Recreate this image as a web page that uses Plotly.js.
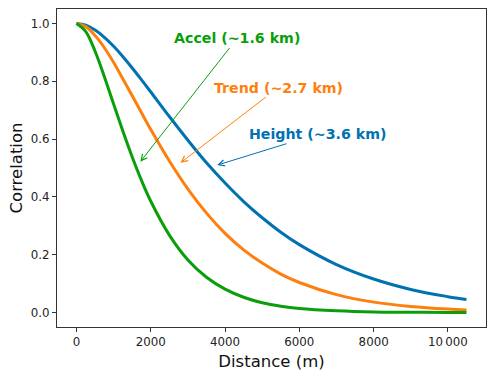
<!DOCTYPE html>
<html>
<head>
<meta charset="utf-8">
<script src="https://cdn.plot.ly/plotly-3.0.1.min.js"></script>
<style>
  html, body { margin: 0; padding: 0; background: #fff; }
  #plot { width: 496px; height: 378px; }
</style>
</head>
<body>
<div id="plot"></div>
<script>
// Distance (m) and correlation
const distance = [0, 250, 500, 750, 1000, 1250, 1500, 1750, 2000, 2500, 3000, 3500, 4000,
                  4500, 5000, 5500, 6000, 7000, 8000, 9000, 10000, 10500];
const heightCorr = [1.0, 0.994, 0.977, 0.952, 0.921, 0.885, 0.846, 0.805, 0.763, 0.678, 0.596, 0.518, 0.448,
                    0.384, 0.328, 0.278, 0.235, 0.166, 0.116, 0.080, 0.055, 0.045];
const trendCorr = [1.0, 0.989, 0.958, 0.916, 0.865, 0.808, 0.750, 0.691, 0.633, 0.524, 0.427, 0.344, 0.274,
                   0.217, 0.171, 0.133, 0.104, 0.062, 0.036, 0.021, 0.012, 0.009];
const accelCorr = [1.0, 0.972, 0.904, 0.816, 0.721, 0.627, 0.538, 0.457, 0.385, 0.268, 0.182, 0.122, 0.081,
                   0.053, 0.034, 0.022, 0.014, 0.006, 0.002, 0.001, 0.0, 0.0];

const seriesNames = ['Height', 'Trend', 'Accel'];
const seriesColors = ['#0072b2', '#ff7f0e', '#0a9f0a'];

// annotation labels, text centre and arrow tip
const labelText = ['Height (~3.6 km)', 'Trend (~2.7 km)', 'Accel (~1.6 km)'];
const labelX = [6481, 5428, 4321];
const labelY = [0.617, 0.778, 0.948];
const tipX = [3789, 2800, 1719];
const tipY = [0.510, 0.518, 0.522];

const xTickVals = [0, 2000, 4000, 6000, 8000, 10000];
const xTickText = ['0', '2000', '4000', '6000', '8000', '10\u2009000'];

function plotCorrelation() {
    const ys = [heightCorr, trendCorr, accelCorr];

    const traces = ys.map((y, i) => ({
        x: distance,
        y: y,
        name: seriesNames[i],
        type: 'scatter',
        mode: 'lines',
        line: { color: seriesColors[i], width: 3, shape: 'spline', smoothing: 1 },
        hoverinfo: 'skip'
    }));

    const annotations = labelText.map((t, i) => ({
        text: '<b>' + t + '</b>',
        x: tipX[i], y: tipY[i], xref: 'x', yref: 'y',
        ax: labelX[i], ay: labelY[i], axref: 'x', ayref: 'y',
        showarrow: true,
        arrowhead: 5,
        arrowsize: 1.2,
        arrowwidth: 1,
        arrowcolor: seriesColors[i],
        font: { family: 'DejaVu Sans', size: 14.2, color: seriesColors[i] }
    }));

    const axisCommon = {
        showline: true, mirror: true, linecolor: '#333', linewidth: 1,
        showgrid: false, zeroline: false,
        ticks: 'outside', ticklen: 4, tickwidth: 1, tickcolor: '#333',
        tickfont: { family: 'DejaVu Sans', size: 11.8, color: '#222' }
    };

    const layout = {
        width: 496, height: 378,
        margin: { l: 57, r: 10, t: 9, b: 51 },
        paper_bgcolor: '#fff', plot_bgcolor: '#fff',
        showlegend: false,
        xaxis: Object.assign({}, axisCommon, {
            range: [-525, 11025],
            tickvals: xTickVals, ticktext: xTickText,
            title: { text: 'Distance (m)', font: { family: 'DejaVu Sans', size: 16.5, color: '#111' }, standoff: 7 }
        }),
        yaxis: Object.assign({}, axisCommon, {
            range: [-0.05, 1.05],
            dtick: 0.2, tickformat: '.1f',
            title: { text: 'Correlation', font: { family: 'DejaVu Sans', size: 16.5, color: '#111' }, standoff: 4 }
        }),
        annotations: annotations
    };

    Plotly.newPlot('plot', traces, layout, { staticPlot: true });
}

plotCorrelation();
</script>
</body>
</html>
